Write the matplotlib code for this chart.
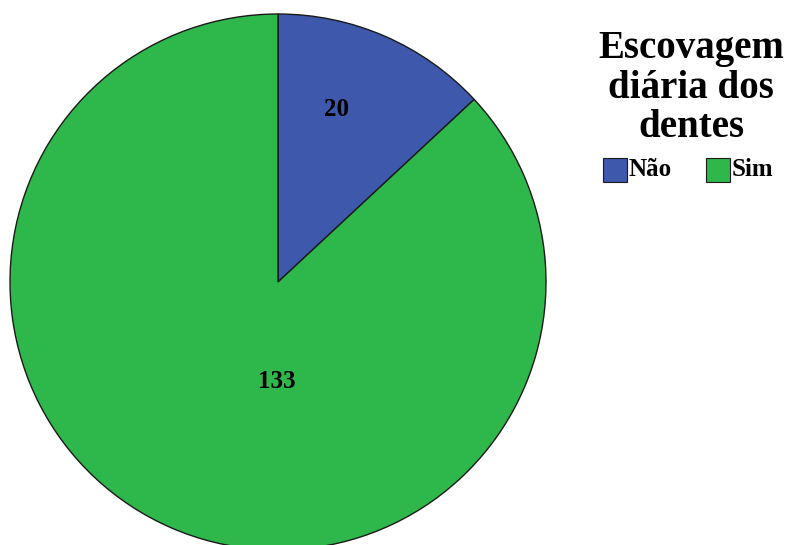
import matplotlib
matplotlib.use("Agg")
import matplotlib.pyplot as plt
from matplotlib.patches import Rectangle

categories = ["Não", "Sim"]
counts = [20, 133]
colors = ["#3E58AC", "#2EB84B"]
legend_title = "Escovagem\ndiária dos\ndentes"

W, H = 789, 545
fig = plt.figure(figsize=(W / 100, H / 100), dpi=100)
ax = fig.add_axes([0, 0, 1, 1])
ax.set_xlim(0, W)
ax.set_ylim(0, H)
ax.axis("off")

cx, cy, r = 278, H - 282, 268
wedges, _ = ax.pie(counts, colors=colors, startangle=90, counterclock=False,
                   center=(cx, cy), radius=r,
                   wedgeprops=dict(edgecolor="#1a1a1a", linewidth=1.0))
ax.set_xlim(0, W)
ax.set_ylim(0, H)
ax.set_aspect("equal")

font = dict(family="Liberation Serif", weight="bold")
label_pos = [(337, 110), (277, 382)]
for (x, y), v in zip(label_pos, counts):
    ax.text(x, H - y, str(v), ha="center", va="center", fontsize=18, **font)

# legend block
ax.text(691, H - 88, legend_title, ha="center", va="center", fontsize=28,
        linespacing=1.09, **font)
box = 24
for (bx, tx), w, lab in zip([(603, 629), (706, 732)], wedges, categories):
    ax.add_patch(Rectangle((bx, H - 182), box, box, facecolor=w.get_facecolor(),
                           edgecolor="#1a1a1a", linewidth=0.8))
    ax.text(tx, H - 170, lab, ha="left", va="center", fontsize=18, **font)

fig.savefig("out.png", dpi=100, facecolor="white")
